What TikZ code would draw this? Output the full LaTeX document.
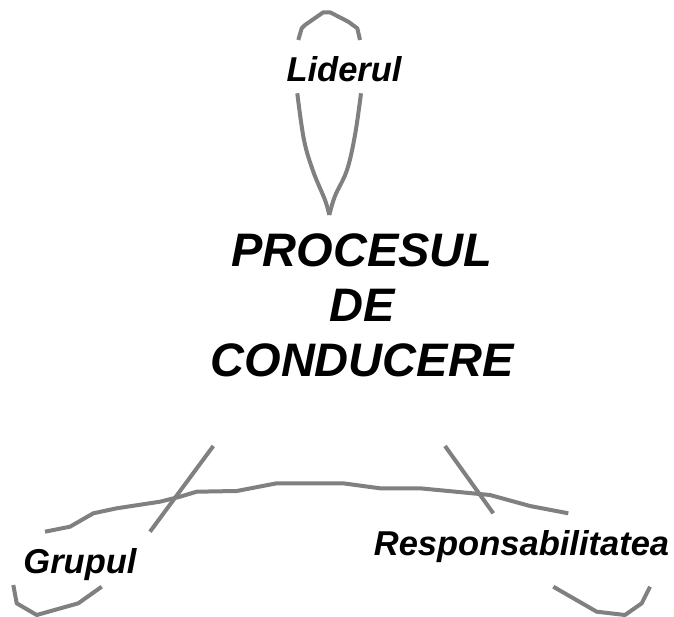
\documentclass[tikz,border=0pt]{standalone}
\usepackage{fontspec}
\setmainfont{Liberation Sans}
\definecolor{linegray}{RGB}{128,128,128}
\begin{document}
\begin{tikzpicture}[x=1pt,y=-1pt,
  loopline/.style={draw=linegray,line width=4pt,line join=round},
  biglabel/.style={font=\fontsize{47}{55}\selectfont\bfseries\itshape,inner sep=0pt,anchor=base},
  smalllabel/.style={font=\fontsize{34.5}{40}\selectfont\bfseries\itshape,inner sep=0pt,anchor=base}]
\useasboundingbox[fill=white] (0,0) rectangle (674,617);
% Liderul loop
\draw[loopline] (298.3,40) -- (301.7,28.3) -- (305,25) -- (323.3,12.3) -- (330,12.3) -- (348.3,21.7) -- (357.3,28.3) -- (360,40);
\draw[loopline] plot[smooth,tension=0.6] coordinates {(297.3,93.3) (304,140) (313.3,171.7) (325,200) (329.3,215)};
\draw[loopline] plot[smooth,tension=0.6] coordinates {(361,93.3) (355,135) (347,170) (335,196) (329.3,215)};
% long curve
\draw[loopline] (45,531.7) -- (70,526.7) -- (93.3,513.3) -- (116.7,508.3) -- (160,501.7) -- (180,496.7) -- (196.7,491.7) -- (236.7,491) -- (276.7,483.3) -- (343,483.3) -- (380,488.3) -- (420,488.3) -- (490,495) -- (530,506) -- (568.3,513.3);
% diagonals
\draw[loopline] (213.3,446) -- (150,531.7);
\draw[loopline] (445,446) -- (493.3,513.3);
% bottom arcs
\draw[loopline] (13.3,585) -- (16.7,603.3) -- (36.7,615) -- (78.3,603.3) -- (101.7,586.7);
\draw[loopline] (553.3,586.7) -- (596.7,611.7) -- (625,615) -- (641.7,603.3) -- (650,586.7);
% labels
\node[smalllabel] (lider) at (344,82) {Liderul};
\node[smalllabel] (grup) at (80,573.3) {Grupul};
\node[smalllabel] (resp) at (521.5,555) {Responsabilitatea};
\node[biglabel] (proc1) at (362,266.7) {PROCESUL};
\node[biglabel] (proc2) at (362,321.7) {DE};
\node[biglabel] (proc3) at (362,376) {CONDUCERE};
\end{tikzpicture}
\end{document}
